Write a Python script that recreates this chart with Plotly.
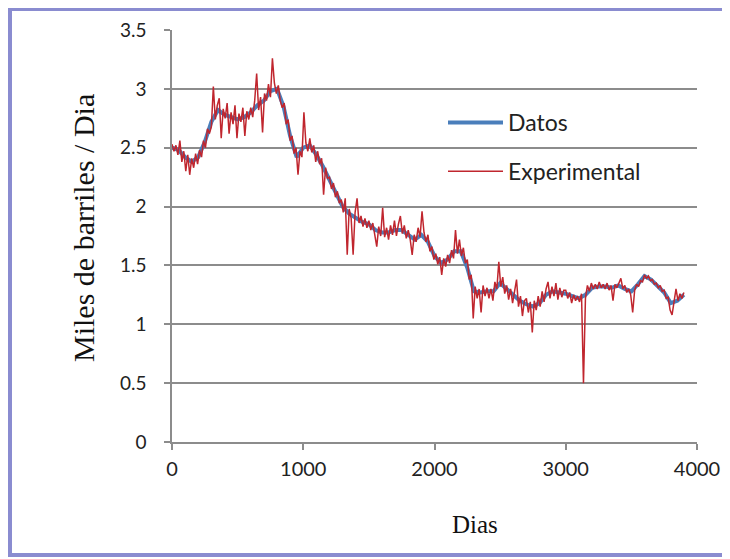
import plotly.graph_objects as go

# Smoothed production ("Datos"), one value every 50 days
datos_dias = list(range(0, 3901, 50))
datos_vals = [2.50, 2.48, 2.42, 2.38, 2.42, 2.55, 2.72, 2.82, 2.78, 2.76,
              2.74, 2.76, 2.80, 2.86, 2.90, 2.98, 3.00, 2.85, 2.60, 2.42,
              2.50, 2.52, 2.44, 2.34, 2.22, 2.10, 2.00, 1.94, 1.90, 1.87,
              1.85, 1.80, 1.78, 1.78, 1.80, 1.80, 1.76, 1.72, 1.76, 1.70,
              1.58, 1.52, 1.55, 1.62, 1.62, 1.48, 1.28, 1.27, 1.28, 1.28,
              1.35, 1.30, 1.25, 1.20, 1.17, 1.15, 1.18, 1.25, 1.28, 1.27,
              1.26, 1.24, 1.22, 1.25, 1.31, 1.32, 1.32, 1.31, 1.33, 1.30,
              1.28, 1.34, 1.41, 1.38, 1.33, 1.27, 1.18, 1.20, 1.25]

# Experimental (noisy) series, one value every 15 days
exp_dias = list(range(0, 3901, 15))
exp_vals = [
    2.53, 2.47, 2.52, 2.44, 2.56, 2.38, 2.47, 2.30, 2.44, 2.27, 2.41, 2.33, 2.45, 2.36, 2.48, 2.42, 2.56, 2.50, 2.66, 2.62,
    2.68, 3.02, 2.74, 2.86, 2.92, 2.58, 2.83, 2.75, 2.88, 2.62, 2.80, 2.70, 2.86, 2.58, 2.79, 2.72, 2.84, 2.60, 2.81, 2.74,
    2.84, 2.76, 2.90, 3.13, 2.82, 2.93, 2.63, 2.96, 2.90, 3.04, 2.93, 3.26, 3.05, 2.96, 3.03, 2.90, 2.84, 2.88, 2.70, 2.74,
    2.56, 2.60, 2.45, 2.50, 2.27, 2.47, 2.42, 2.80, 2.54, 2.47, 2.58, 2.46, 2.52, 2.38, 2.47, 2.36, 2.41, 2.10, 2.33, 2.24,
    2.25, 2.15, 2.20, 2.08, 2.13, 2.03, 2.06, 1.95, 2.07, 1.59, 1.98, 1.90, 1.59, 1.95, 2.07, 1.86, 1.92, 1.83, 1.90, 1.82,
    1.88, 1.80, 1.86, 1.76, 1.66, 1.83, 1.75, 1.99, 1.74, 1.82, 1.72, 1.84, 1.76, 1.88, 1.75, 1.85, 1.92, 1.77, 1.84, 1.73,
    1.80, 1.72, 1.59, 1.76, 1.70, 1.82, 1.74, 1.96, 1.78, 1.70, 1.76, 1.62, 1.66, 1.55, 1.60, 1.51, 1.57, 1.42, 1.56, 1.49,
    1.59, 1.52, 1.63, 1.56, 1.80, 1.60, 1.72, 1.58, 1.65, 1.52, 1.55, 1.38, 1.42, 1.05, 1.32, 1.22, 1.30, 1.10, 1.33, 1.24,
    1.31, 1.22, 1.30, 1.20, 1.36, 1.30, 1.53, 1.32, 1.40, 1.26, 1.33, 1.21, 1.30, 1.18, 1.27, 1.38, 1.15, 1.24, 1.07, 1.20,
    1.22, 1.10, 1.19, 0.93, 1.20, 1.12, 1.24, 1.15, 1.28, 1.19, 1.30, 1.36, 1.22, 1.32, 1.24, 1.35, 1.21, 1.31, 1.23, 1.29,
    1.29, 1.22, 1.27, 1.18, 1.25, 1.20, 1.24, 1.19, 1.26, 0.50, 1.22, 1.33, 1.28, 1.35, 1.30, 1.34, 1.30, 1.36, 1.31, 1.34,
    1.30, 1.35, 1.29, 1.33, 1.20, 1.34, 1.31, 1.35, 1.39, 1.30, 1.33, 1.27, 1.30, 1.25, 1.10, 1.29, 1.34, 1.32, 1.37, 1.36,
    1.42, 1.39, 1.41, 1.37, 1.38, 1.34, 1.35, 1.31, 1.33, 1.28, 1.29, 1.22, 1.23, 1.12, 1.08, 1.19, 1.30, 1.20, 1.26, 1.22, 1.27,
]

x_ticks = [0, 1000, 2000, 3000, 4000]
y_ticks = [0, 0.5, 1, 1.5, 2, 2.5, 3, 3.5]
y_tick_text = ["0", "0.5", "1", "1.5", "2", "2.5", "3", "3.5"]

# The page body adds an 8px offset; the figure is sized/margined to compensate.
W, H = 722, 551
L, R, T, B = 164, 33, 22, 117
PW, PH = W - L - R, H - T - B

fig = go.Figure()
fig.add_trace(go.Scatter(x=datos_dias, y=datos_vals, mode="lines", name="Datos",
                         legendgroup="a",
                         line=dict(color="#4a7ebb", width=4)))
fig.add_trace(go.Scatter(x=exp_dias, y=exp_vals, mode="lines", name="Experimental",
                         legendgroup="b",
                         line=dict(color="#c0262e", width=1.5)))

fig.update_layout(
    width=W, height=H,
    margin=dict(l=L, r=R, t=T, b=B, autoexpand=False),
    paper_bgcolor="white", plot_bgcolor="white",
    font=dict(family="Lato", size=19, color="#222"),
    showlegend=True,
    legend=dict(x=(443 - 172) / PW, y=(442 - 101) / PH, xanchor="left", yanchor="top",
                bgcolor="rgba(0,0,0,0)", font=dict(family="Lato", size=23, color="#222"),
                tracegroupgap=16, itemwidth=55),
    xaxis=dict(range=[0, 4000], tickvals=x_ticks, showgrid=False,
               showline=True, linecolor="#8c8c8c", linewidth=1.5,
               ticks="outside", ticklen=6, tickcolor="#8c8c8c", tickwidth=1.5,
               ticklabelstandoff=2, zeroline=False,
               tickfont=dict(family="Lato", size=20, color="#222")),
    yaxis=dict(range=[0, 3.5], tickvals=y_ticks, ticktext=y_tick_text,
               showgrid=True, gridcolor="#8c8c8c", gridwidth=1.5,
               showline=True, linecolor="#8c8c8c", linewidth=1.5,
               ticks="outside", ticklen=6, tickcolor="#8c8c8c", tickwidth=1.5,
               ticklabelstandoff=14, zeroline=False,
               tickfont=dict(family="Lato", size=19, color="#222")),
    annotations=[
        dict(text="Dias", xref="paper", yref="paper",
             x=(475 - 172) / PW, y=(442 - 524) / PH, xanchor="center", yanchor="middle",
             showarrow=False, font=dict(family="Liberation Serif", size=25, color="#111")),
        dict(text="Miles de barriles / Dia", xref="paper", yref="paper", textangle=-90,
             x=(83 - 172) / PW, y=(442 - 228) / PH, xanchor="center", yanchor="middle",
             showarrow=False, font=dict(family="Liberation Serif", size=30, color="#111")),
    ],
)

# outer frame of the picture
fig.add_shape(type="rect", xref="paper", yref="paper",
              x0=(10 - 172) / PW, x1=(725 - 172) / PW,
              y0=(442 - 555) / PH, y1=(442 - 9) / PH,
              line=dict(color="#8a8cd0", width=4), layer="below")

fig.write_html("out.html")
